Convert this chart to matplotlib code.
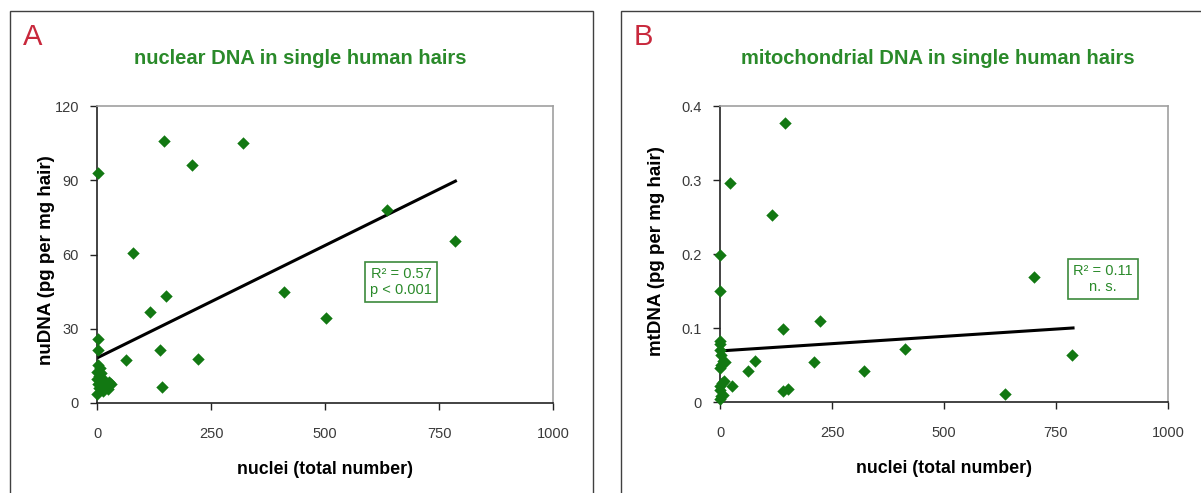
import matplotlib
matplotlib.use("Agg")
import matplotlib.pyplot as plt
from matplotlib.patches import Rectangle
import numpy as np

# --- data -----------------------------------------------------------------
nuclei_a = [3, 146, 320, 209, 80, 636, 786, 410, 151, 116, 502, 2, 2, 139, 63,
            222, 142,
            2, 6, 1, 9, 4, 12, 1, 7, 16, 27, 3, 11, 20, 24, 5, 14, 1, 30]
nudna = [92.8, 106.0, 105.2, 96.0, 60.7, 77.9, 65.5, 44.8, 43.1, 36.7, 34.4,
         25.9, 21.6, 21.6, 17.3, 17.9, 6.5,
         15.5, 14.0, 12.5, 12.0, 11.0, 10.0, 9.5, 9.0, 8.5, 8.3, 7.5, 7.0, 6.8,
         5.5, 6.0, 5.0, 3.6, 7.8]

nuclei_b = [146, 23, 117, 0, 0, 702, 223, 140, 413, 786, 210, 79, 63, 321, 636,
            141, 151, 26,
            0, 1, 0, 2, 7, 3, 12, 0, 4, 9, 1, 0, 6, 0, 2]
mtdna = [0.377, 0.296, 0.253, 0.199, 0.150, 0.169, 0.110, 0.098, 0.071, 0.063,
         0.054, 0.055, 0.042, 0.042, 0.011, 0.0145, 0.018, 0.021,
         0.082, 0.078, 0.070, 0.064, 0.055, 0.050, 0.054, 0.046, 0.026, 0.028,
         0.021, 0.016, 0.010, 0.004, 0.008]

# linear trend lines: (intercept, slope, x end)
trend_a = (18.2, 0.0909, 786)
trend_b = (0.069, 0.0000394, 788)

x_ticks = [0, 250, 500, 750, 1000]
y_ticks_a = [0, 30, 60, 90, 120]
y_ticks_b = [0, 0.1, 0.2, 0.3, 0.4]
y_ticklabels_b = ["0", "0.1", "0.2", "0.3", "0.4"]

# --- style ----------------------------------------------------------------
GREEN = "#127812"
TITLE_GREEN = "#2a8a2a"
RED = "#c8283c"
NARROW = ["Liberation Sans Narrow", "Liberation Sans", "DejaVu Sans"]
SANS = ["Liberation Sans", "DejaVu Sans"]

fig = plt.figure(figsize=(12.01, 4.93), dpi=100)
W, H = 1201, 493


def fx(px):
    return px / W


def fy(py):
    return 1 - py / H


# panel frames
for left, right in [(10, 593), (621, 1230)]:
    fig.patches.append(Rectangle((fx(left), fy(520)), fx(right - left),
                                 (520 - 11) / H, transform=fig.transFigure,
                                 fill=False, edgecolor="#404040", lw=1.0,
                                 clip_on=False))


def panel(ax_rect, xs, ys, trend, yticks, yticklabels, ylim, ylabel,
          ylabel_pos, title, letter, letter_xy, title_xy, box_xy, box_lines):
    ax = fig.add_axes(ax_rect)
    ax.scatter(xs, ys, marker="D", s=40, color=GREEN, linewidths=0, zorder=3,
               clip_on=False)
    b0, b1, xe = trend
    xl = np.array([0, xe])
    ax.plot(xl, b0 + b1 * xl, color="black", lw=2.2, zorder=2)
    ax.set_xlim(0, 1000)
    ax.set_ylim(*ylim)
    ax.set_xticks(x_ticks)
    ax.set_xticklabels([str(t) for t in x_ticks])
    ax.set_yticks(yticks)
    ax.set_yticklabels(yticklabels)
    for s in ["left", "bottom"]:
        ax.spines[s].set_color("#222222")
        ax.spines[s].set_linewidth(1.2)
    for s in ["top", "right"]:
        ax.spines[s].set_color("#a0a0a0")
        ax.spines[s].set_linewidth(1.2)
    ax.tick_params(direction="out", length=5, width=1.0, color="#222222",
                   labelcolor="#3a3a3a", top=False, right=False)
    ax.tick_params(axis="x", pad=12)
    ax.tick_params(axis="y", pad=8)
    for lab in ax.get_xticklabels() + ax.get_yticklabels():
        lab.set_fontfamily(NARROW)
        lab.set_fontsize(10.5)
    ax.set_xlabel("nuclei (total number)", fontsize=12.8, fontweight="bold",
                  family=SANS, labelpad=15)
    ax.set_ylabel(ylabel, fontsize=13.5, fontweight="bold", family=SANS)
    ax.yaxis.set_label_coords(*ylabel_pos)
    fig.text(fx(letter_xy[0]), fy(letter_xy[1]), letter, color=RED,
             fontsize=21, family=SANS, ha="left", va="center")
    fig.text(fx(title_xy[0]), fy(title_xy[1]), title, color=TITLE_GREEN,
             fontsize=14.5, fontweight="bold", family=SANS, ha="center",
             va="center")
    fig.text(fx(box_xy[0]), fy(box_xy[1]), "\n".join(box_lines),
             color=TITLE_GREEN, fontsize=10.5, family=NARROW, ha="center",
             va="center", linespacing=1.15,
             bbox=dict(boxstyle="square,pad=0.35", facecolor="white",
                       edgecolor="#3c8a3c", lw=1.2))
    return ax


panel([fx(97), fy(403), fx(553 - 97), (403 - 106) / H],
      nuclei_a, nudna, trend_a, y_ticks_a, [str(t) for t in y_ticks_a],
      (0, 120), "nuDNA (pg per mg hair)", (-0.092, 0.48),
      "nuclear DNA in single human hairs",
      "A", (23, 37), (300, 59), (401, 282), ["R² = 0.57", "p < 0.001"])

panel([fx(720), fy(402), fx(1168 - 720), (402 - 106) / H],
      nuclei_b, mtdna, trend_b, y_ticks_b, y_ticklabels_b,
      (0, 0.4), "mtDNA (pg per mg hair)", (-0.123, 0.51),
      "mitochondrial DNA in single human hairs",
      "B", (634, 37), (938, 59), (1103, 279), ["R² = 0.11", "n. s."])

fig.savefig("out.png", dpi=100, facecolor="white")
